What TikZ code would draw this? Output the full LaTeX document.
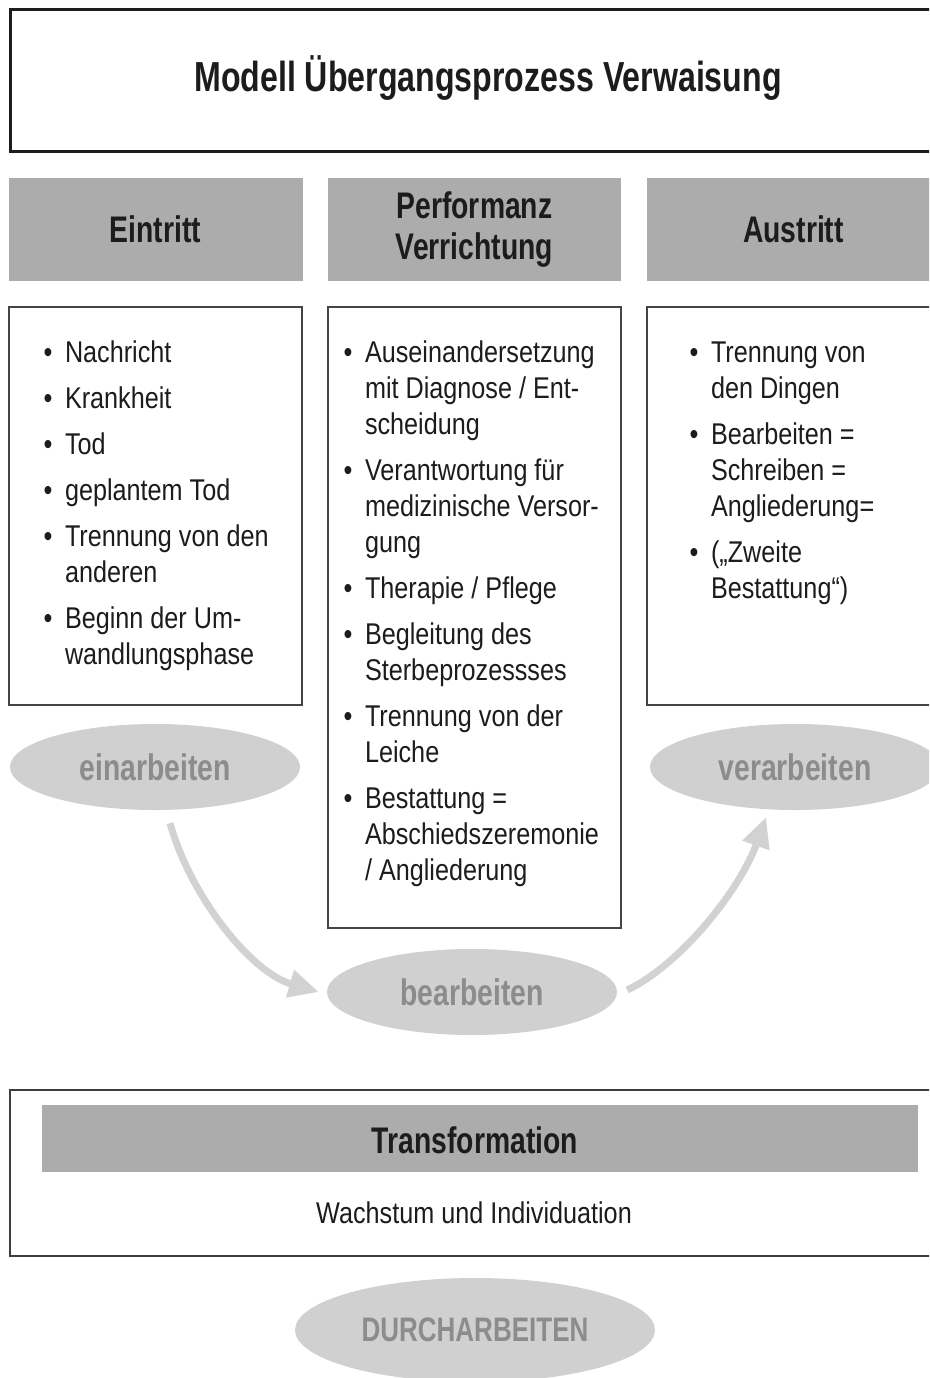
\documentclass[tikz,border=0pt]{standalone}
\usepackage{fontspec}
\usetikzlibrary{arrows.meta,calc,shapes.geometric}
\setmainfont{Liberation Sans}[FakeStretch=0.84]
\newfontfamily\bdfam{Liberation Sans}[FakeStretch=0.765]
\definecolor{hdrgray}{HTML}{ACACAC}
\definecolor{ellgray}{HTML}{D0D0D0}
\definecolor{elltext}{HTML}{8C8C8C}
\definecolor{arrgray}{HTML}{D2D2D2}
\definecolor{ink}{HTML}{1C1C1C}
\definecolor{boxline}{HTML}{444444}
\newcommand\bulletlist[1]{\begin{tabular}[t]{@{}l@{\hspace{12.5pt}}l@{}}#1\end{tabular}}
\begin{document}
\begin{tikzpicture}[x=1pt,y=-1pt,
  hdrbox/.style={fill=hdrgray, inner sep=0pt, text=ink, align=center,
    font=\bdfam\bfseries\fontsize{37}{41}\selectfont},
  contentbox/.style={draw=boxline, line width=1.3pt, fill=white},
  bodytext/.style={inner sep=0pt, text=ink, anchor=north west,
    font=\fontsize{30}{36}\selectfont},
  ellnode/.style={ellipse, fill=ellgray, inner sep=0pt, text=elltext,
    font=\bdfam\bfseries\fontsize{37}{41}\selectfont},
  arr/.style={draw=arrgray, line width=7pt,
    -{Triangle[length=30pt,width=27pt,fill=arrgray]}}
]
\clip (0,0) rectangle (929,1378);
\fill[white] (0,0) rectangle (929,1378);

% title
\node[draw=ink, line width=3pt, minimum width=930pt, minimum height=141pt, inner sep=0pt] (tbox) at (475,80.5) {};
\node[inner sep=0pt, text=ink, font=\bdfam\bfseries\fontsize{42}{46}\selectfont] (title) at (488,78) {Modell Übergangsprozess Verwaisung};

% headers
\node[hdrbox, minimum width=294pt, minimum height=103pt] (h1) at (155.5,229.5) {Eintritt};
\node[hdrbox, minimum width=293pt, minimum height=103pt] (h2) at (474.5,229.5) {Performanz\\Verrichtung};
\node[hdrbox, minimum width=293pt, minimum height=103pt] (h3) at (793.5,229.5) {Austritt};

% content boxes
\node[contentbox, minimum width=293pt, minimum height=398pt, inner sep=0pt] (c1) at (155.5,506) {};
\node[contentbox, minimum width=293pt, minimum height=621pt, inner sep=0pt] (c2) at (474.5,617.5) {};
\node[contentbox, minimum width=293pt, minimum height=398pt, inner sep=0pt] (c3) at (793.5,506) {};

\node[bodytext] (t1) at (43.5,337.5) {\bulletlist{%
• & Nachricht\\[10pt]
• & Krankheit\\[10pt]
• & Tod\\[10pt]
• & geplantem Tod\\[10pt]
• & Trennung von den\\
  & anderen\\[10pt]
• & Beginn der Um-\\
  & wandlungsphase}};

\node[bodytext] (t2) at (343.5,337.5) {\bulletlist{%
• & Auseinandersetzung\\
  & mit Diagnose / Ent-\\
  & scheidung\\[10pt]
• & Verantwortung für\\
  & medizinische Versor-\\
  & gung\\[10pt]
• & Therapie / Pflege\\[10pt]
• & Begleitung des\\
  & Sterbeprozessses\\[10pt]
• & Trennung von der\\
  & Leiche\\[10pt]
• & Bestattung =\\
  & Abschiedszeremonie\\
  & / Angliederung}};

\node[bodytext] (t3) at (689.5,337.5) {\bulletlist{%
• & Trennung von\\
  & den Dingen\\[10pt]
• & Bearbeiten =\\
  & Schreiben =\\
  & Angliederung=\\[10pt]
• & („Zweite\\
  & Bestattung“)}};

% ellipses
\node[ellnode, minimum width=290pt, minimum height=86pt] (e1) at (155,767) {einarbeiten};
\node[ellnode, minimum width=290pt, minimum height=86pt] (e2) at (472,992) {bearbeiten};
\node[ellnode, minimum width=290pt, minimum height=86pt] (e3) at (795,767) {verarbeiten};

% arrows
\draw[arr] ($(e1.south)+(15,13)$) .. controls (190,895) and (250,972) .. ($(e2.west)+(-8,0)$);
\draw[arr] ($(e2.east)+(10,-2)$) .. controls (680,965) and (740,890) .. ($(e3.south)+(-29,7)$);

% transformation box
\node[draw=ink!85, line width=1.5pt, minimum width=930pt, minimum height=166pt, inner sep=0pt] (bbox) at (475,1173) {};
\node[fill=hdrgray, minimum width=876pt, minimum height=67pt, inner sep=0pt] (tbar) at (480,1138.5) {};
\node[inner sep=0pt, text=ink, font=\bdfam\bfseries\fontsize{37}{41}\selectfont] (ttext) at (475,1140) {Transformation};
\node[inner sep=0pt, text=ink, font=\fontsize{30}{36}\selectfont] (wtext) at (474,1213) {Wachstum und Individuation};

% durcharbeiten
\node[ellnode, minimum width=360pt, minimum height=104pt, font=\bdfam\bfseries\fontsize{34}{40}\selectfont] (e4) at (475,1330) {DURCHARBEITEN};
\end{tikzpicture}
\end{document}
